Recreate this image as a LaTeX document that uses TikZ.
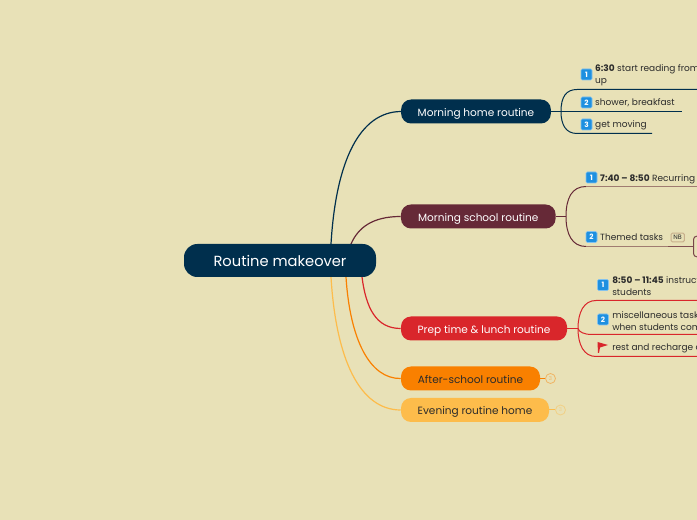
\documentclass[tikz,border=0pt]{standalone}
\usepackage{fontspec}
\setmainfont{Poppins}
\usepackage{xcolor}
\usetikzlibrary{arrows.meta,positioning,calc}
\definecolor{cPaper}{HTML}{E8E1B7}
\definecolor{cNavy}{HTML}{002F4D}
\definecolor{cWine}{HTML}{662937}
\definecolor{cRed}{HTML}{D9262B}
\definecolor{cOrange}{HTML}{F98000}
\definecolor{cAmber}{HTML}{FDBC4B}
\definecolor{cInk}{HTML}{2B2B2B}
\definecolor{cBlue}{HTML}{1E90E0}
\definecolor{cTan}{HTML}{C8AF8C}
\tikzset{
  rootbox/.style={fill=cNavy,rounded corners=10pt,minimum width=144pt,minimum height=24.75pt,text=white,text height=9pt,text depth=0pt,font=\fontsize{11}{12}\selectfont,inner sep=0pt},
  mainbox/.style={fill=#1,rounded corners=7.5pt,minimum height=18pt,inner sep=0pt,text height=7pt,text depth=0pt,font=\fontsize{7.9}{9}\selectfont},
  leaf/.style={anchor=west,align=left,inner sep=0pt,yshift=-0.5pt,text=cInk,font=\fontsize{6.75}{9}\selectfont},
  numbox/.style={fill=cBlue,draw=cBlue!55!white,line width=0.4pt,rounded corners=1pt,minimum size=8.25pt,inner sep=0pt,text=white,font=\fontsize{5.5}{5.5}\selectfont\bfseries},
  branch/.style={line width=0.9pt,color=#1},
  twig/.style={line width=0.75pt,color=#1},
  fold/.style={draw=#1,circle,minimum size=7.5pt,inner sep=0pt,line width=0.6pt,text=#1,font=\fontsize{4}{4}\selectfont},
}
\begin{document}
\begin{tikzpicture}[x=0.75pt,y=-0.75pt]
  \useasboundingbox[fill=cPaper] (0,0) rectangle (697,520);
  \clip (0,0) rectangle (697,520);
  % main branches
  \coordinate (sa) at (331,244);
  \coordinate (sb) at (351,244);
  \coordinate (sc) at (362,277);
  \coordinate (sd) at (346,277);
  \coordinate (se) at (331,277);
  \node[mainbox=cNavy,minimum width=112.3pt,text=white] (home) at (476,111.5) {Morning home routine};
  \node[mainbox=cWine,minimum width=116pt,text=white] (school) at (478.3,216.5) {Morning school routine};
  \node[mainbox=cRed,minimum width=124.5pt,text=white] (prep) at (484,328.5) {Prep time \& lunch routine};
  \node[mainbox=cOrange,minimum width=104.25pt,text=cInk] (after) at (470.5,378.5) {After-school routine};
  \node[mainbox=cAmber,minimum width=111pt,text=cInk] (evening) at (475,410) {Evening routine home};
  \draw[branch=cNavy] (sa) .. controls (336,160) and (360,112) .. (home.west);
  \draw[branch=cWine] (sb) .. controls (358,228) and (372,216.5) .. (school.west);
  \draw[branch=cRed] (sc) .. controls (366,308) and (376,328.5) .. (prep.west);
  \draw[branch=cOrange] (sd) .. controls (350,340) and (370,379) .. (after.west);
  \draw[branch=cAmber] (se) .. controls (336,360) and (360,410) .. (evening.west);
  \node[rootbox] (root) at (280,260.5) {Routine makeover};
  % morning home
  \coordinate (hj) at (561,111.5);
  \coordinate (ha) at (697,89.5);
  \coordinate (hb) at (682,111.5);
  \coordinate (hc) at (652,133.5);
  \draw[twig=cNavy] (home.east) -- (hb);
  \draw[twig=cNavy] (ha) -- (577,89.5) .. controls (566,89.5) and (561,97) .. (hj) .. controls (561,125) and (566,133.5) .. (577,133.5) -- (hc);
  \node[numbox] (h1) at (586.5,74.5) {1};
  \node[numbox] (h2) at (586.5,102.5) {2};
  \node[numbox] (h3) at (586.5,124.5) {3};
  \node[leaf,right=2pt of h1.east] (h1t) {\textbf{6:30} start reading from\\up};
  \node[leaf,right=2pt of h2] (h2t) {shower, breakfast};
  \node[leaf,right=2pt of h3] (h3t) {get moving};
  % morning school
  \coordinate (sj) at (566,216.5);
  \coordinate (st) at (697,186.5);
  \coordinate (sm) at (668,246.5);
  \coordinate (sn) at (693,246.5);
  \draw[twig=cWine] (school.east) -- (sj);
  \draw[twig=cWine] (586,186.5) .. controls (572,186.5) and (566,198) .. (sj) .. controls (566,234) and (572,246.5) .. (586,246.5);
  \draw[line width=1pt,color=cWine!55!cPaper] (st) -- (586,186.5);
  \draw[line width=1pt,color=cWine!55!cPaper] (586,246.5) -- (sm);
  \draw[line width=1pt,color=cWine!80!cPaper] (sm) -- (sn);
  \node[numbox] (s1) at (591.5,177.5) {1};
  \node[numbox] (s2) at (591.5,237) {2};
  \node[leaf,right=2pt of s1,yshift=-0.5pt] (s1t) {\textbf{7:40 – 8:50} Recurring};
  \node[leaf,right=2pt of s2] (s2t) {Themed tasks};
  \node[draw=cTan,rounded corners=1pt,line width=0.75pt,minimum width=10pt,minimum height=6.5pt,inner sep=0pt,text=cInk,font=\fontsize{4.8}{5}\selectfont,anchor=west] (nb) at (670.5,237.5) {NB};
  \node[draw=cWine!85!cPaper,rounded corners=2.5pt,line width=0.75pt,anchor=west,minimum width=20pt,minimum height=15.5pt,inner sep=0pt] (sbox) at (sn) {};
  % prep
  \coordinate (pj) at (578,328.5);
  \coordinate (pa) at (697,300.5);
  \coordinate (pb) at (697,334.5);
  \coordinate (pc) at (697,356.5);
  \draw[twig=cRed] (prep.east) -- (pj);
  \draw[twig=cRed] (pa) -- (596,300.5) .. controls (584,300.5) and (578,312) .. (pj) .. controls (578,345) and (584,356.5) .. (596,356.5) -- (pc);
  \draw[twig=cRed] (pj) .. controls (579,332) and (584,334.5) .. (592,334.5) -- (pb);
  \node[numbox] (p1) at (603,285) {1};
  \node[numbox] (p2) at (603,319.5) {2};
  \fill[cRed] (597.5,342) -- (608,345) -- (600,347.5) -- (599,353) -- (598,353) -- cycle;
  \node[leaf] (p1t) at (612,285.5) {\textbf{8:50 – 11:45} instruct\\students};
  \node[leaf] (p2t) at (612,320) {miscellaneous tasks\\when students come};
  \node[leaf] (p3t) at (612,348) {rest and recharge d};
  % collapsed
  \node[fold=cOrange!45!cPaper] (afold) at (550.5,378.5) {3};
  \node[fold=cAmber!45!cPaper] (efold) at (560.5,410) {3};
  \draw[twig=cOrange] (after.east) -- (afold);
  \draw[twig=cAmber] (evening.east) -- (efold);
\end{tikzpicture}
\end{document}
